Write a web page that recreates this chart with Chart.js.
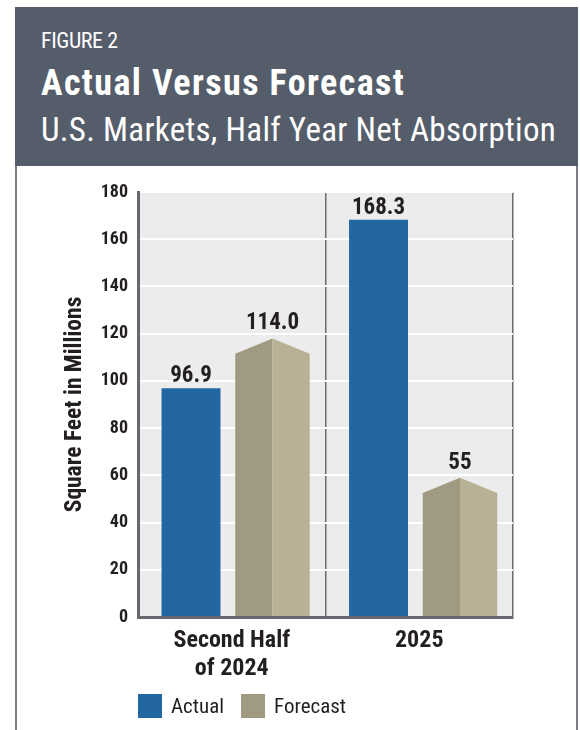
<!DOCTYPE html>
<html>
<head>
<meta charset="utf-8">
<script src="https://cdn.jsdelivr.net/npm/chart.js@4.4.1/dist/chart.umd.min.js"></script>
<style>
  body { margin: 0; background: #fff; width: 580px; height: 730px; overflow: hidden; position: relative; }
  #frame { position: absolute; left: 15px; top: 7px; width: 559px; height: 740px; border-left: 2px solid #7a7d86; border-right: 2px solid #7a7d86; }
  #head { position: absolute; left: 15px; top: 7px; width: 563px; height: 159px; background: #555d6b; color: #fff; }
  #head div { position: absolute; left: 26px; white-space: nowrap; line-height: 1; font-family: "Roboto Condensed", sans-serif; }
  #fig { top: 23px; font-size: 22px; letter-spacing: -0.4px; }
  #ttl { top: 58px; font-size: 36px; font-weight: bold; letter-spacing: 1.4px; }
  #sub { top: 106px; font-size: 33px; letter-spacing: 0.3px; }
  #wrap { position: absolute; left: 0; top: 167px; width: 580px; height: 563px; }
  #legend { position: absolute; left: 138px; top: 693px; height: 24px; font: 21px "Roboto Condensed", sans-serif; color: #231f20; white-space: nowrap; }
  #legend span { display: inline-block; vertical-align: middle; line-height: 24px; }
  #legend .box { width: 24px; height: 24px; margin-right: 9px; }
  #legend .txt { margin-right: 17px; }
</style>
</head>
<body>
<div id="frame"></div>
<div id="head">
  <div id="fig">FIGURE 2</div>
  <div id="ttl">Actual Versus Forecast</div>
  <div id="sub">U.S. Markets, Half Year Net Absorption</div>
</div>
<div id="wrap"><canvas id="chart_fig2"></canvas></div>
<div id="legend"></div>
<script>
var categories = [['Second Half', 'of 2024'], '2025'];
var actualValues = [96.9, 168.3];
var forecastValues = [114.0, 55];
var actualText = ['96.9', '168.3'];
var forecastText = ['114.0', '55'];
var seriesNames = ['Actual', 'Forecast'];

var BLUE = '#2367a2';
var TAN_DARK = '#a09a82';
var TAN_LIGHT = '#b8b196';
var INK = '#231f20';
var COND = '"Roboto Condensed", sans-serif';

// grey plot background
var plotBg = {
    id: 'plotBg',
    beforeDraw: function (chart) {
        var a = chart.chartArea, ctx = chart.ctx;
        ctx.save();
        ctx.fillStyle = '#ebeceb';
        ctx.fillRect(a.left, a.top, a.right - a.left, a.bottom - a.top);
        ctx.restore();
    }
};

// forecast bars get a pointed roof, plus value labels on all bars
var roofBars = {
    id: 'roofBars',
    beforeDatasetDraw: function (chart, args) {
        if (args.index === 1) return false;
    },
    afterDatasetsDraw: function (chart) {
        var ctx = chart.ctx, y = chart.scales.y;
        ctx.save();
        chart.getDatasetMeta(1).data.forEach(function (bar, i) {
            var v = forecastValues[i];
            var l = bar.x - bar.width / 2, r = bar.x + bar.width / 2;
            var sh = y.getPixelForValue(v - 2.5), pk = y.getPixelForValue(v + 4);
            ctx.fillStyle = TAN_DARK;
            ctx.beginPath();
            ctx.moveTo(l, bar.base); ctx.lineTo(l, sh); ctx.lineTo(bar.x, pk); ctx.lineTo(bar.x, bar.base);
            ctx.closePath(); ctx.fill();
            ctx.fillStyle = TAN_LIGHT;
            ctx.beginPath();
            ctx.moveTo(bar.x, bar.base); ctx.lineTo(bar.x, pk); ctx.lineTo(r, sh); ctx.lineTo(r, bar.base);
            ctx.closePath(); ctx.fill();
        });
        ctx.fillStyle = INK;
        ctx.font = 'bold 23px ' + COND;
        ctx.textAlign = 'center';
        ctx.textBaseline = 'alphabetic';
        chart.getDatasetMeta(0).data.forEach(function (bar, i) {
            ctx.fillText(actualText[i], bar.x, bar.y - 6);
        });
        chart.getDatasetMeta(1).data.forEach(function (bar, i) {
            ctx.fillText(forecastText[i], bar.x, y.getPixelForValue(forecastValues[i] + 4) - 9);
        });
        ctx.restore();
    }
};

var ctx = document.getElementById('chart_fig2').getContext('2d');
var chart = new Chart(ctx, {
    type: 'bar',
    data: {
        labels: categories,
        datasets: [
            { label: seriesNames[0], data: actualValues, backgroundColor: BLUE, barPercentage: 0.724 },
            { label: seriesNames[1], data: forecastValues, backgroundColor: TAN_DARK, barPercentage: 0.914 }
        ]
    },
    options: {
        responsive: true,
        maintainAspectRatio: false,
        animation: false,
        layout: { padding: { left: 60, right: 67, top: 25, bottom: 0 } },
        plugins: {
            legend: { display: false },
            tooltip: { enabled: false }
        },
        datasets: { bar: { categoryPercentage: 0.869 } },
        scales: {
            x: {
                z: 0,
                grid: { offset: true, color: '#6b6b6b', lineWidth: 1.5, drawTicks: false },
                border: { color: '#67686e', width: 3 },
                ticks: {
                    color: INK,
                    padding: 10,
                    maxRotation: 0,
                    font: { family: COND, size: 24, weight: 'bold', lineHeight: 1.17 }
                },
                afterFit: function (s) { s.height = 113; }
            },
            y: {
                z: -1,
                min: 0,
                max: 180,
                ticks: {
                    stepSize: 20,
                    color: INK,
                    padding: 10,
                    font: { family: COND, size: 18, weight: 'bold' }
                },
                grid: { color: '#ffffff', lineWidth: 2, drawTicks: false },
                border: { color: '#67686e', width: 3 },
                title: {
                    display: true,
                    text: 'Square Feet in Millions',
                    color: INK,
                    padding: { top: 1, bottom: 0 },
                    font: { family: COND, size: 23.5, weight: 'bold' }
                },
                afterFit: function (s) { s.width = 78; }
            }
        }
    },
    plugins: [plotBg, roofBars]
});

// legend
var lg = document.getElementById('legend');
[BLUE, TAN_DARK].forEach(function (c, i) {
    lg.innerHTML += '<span class="box" style="background:' + c + '"></span><span class="txt">' + seriesNames[i] + '</span>';
});
</script>
</body>
</html>
